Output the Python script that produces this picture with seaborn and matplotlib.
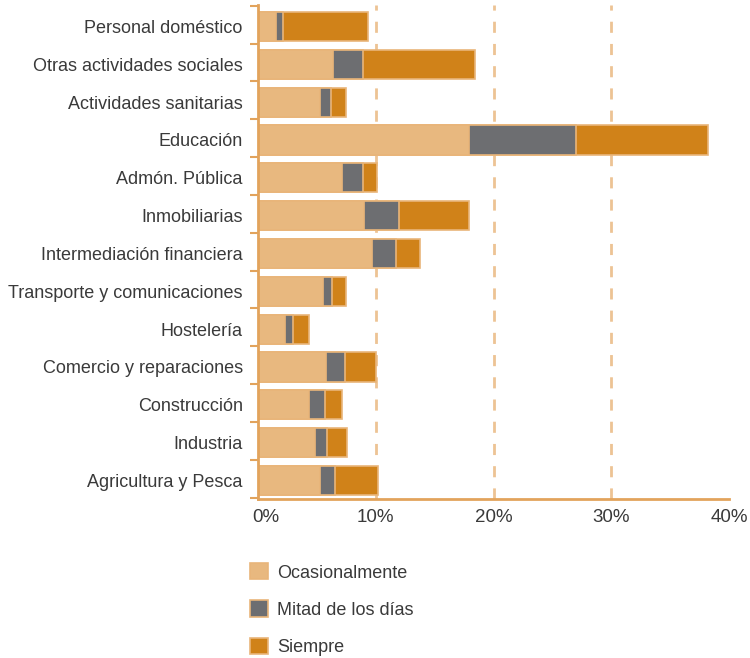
import matplotlib
matplotlib.use("Agg")
import matplotlib.pyplot as plt
from matplotlib.patches import Patch
from matplotlib.transforms import ScaledTranslation
import seaborn as sns
import pandas as pd
import numpy as np

categories = ["Personal doméstico", "Otras actividades sociales", "Actividades sanitarias",
              "Educación", "Admón. Pública", "Inmobiliarias", "Intermediación financiera",
              "Transporte y comunicaciones", "Hostelería", "Comercio y reparaciones",
              "Construcción", "Industria", "Agricultura y Pesca"]
ocasionalmente = [1.5, 6.4, 5.3, 17.9, 7.1, 9.0, 9.7, 5.5, 2.3, 5.8, 4.3, 4.8, 5.3]
mitad = [0.6, 2.5, 0.9, 9.1, 1.8, 3.0, 2.0, 0.8, 0.7, 1.6, 1.4, 1.1, 1.2]
siempre = [7.2, 9.5, 1.3, 11.2, 1.2, 5.9, 2.1, 1.2, 1.3, 2.6, 1.4, 1.7, 3.7]
series_names = ["Ocasionalmente", "Mitad de los días", "Siempre"]
xticks = [0, 10, 20, 30, 40]
xticklabels = ["0%", "10%", "20%", "30%", "40%"]

c_light = "#E8B87F"
c_gray = "#6D6E71"
c_orange = "#D08219"
c_edge = "#E9B57A"
c_axis = "#E2A35C"
c_text = "#3a3a3a"

sns.set_theme(style="white")
plt.rcParams["font.family"] = ["Liberation Sans", "DejaVu Sans"]

df = pd.DataFrame({"cat": categories,
                   "occ": ocasionalmente,
                   "mid": np.array(ocasionalmente) + np.array(mitad),
                   "tot": np.array(ocasionalmente) + np.array(mitad) + np.array(siempre)})

fig = plt.figure(figsize=(7.5, 6.58), dpi=100)
ax = fig.add_axes([258/750, 1-499/658, 471/750, 494/658])

for x in [10, 20, 30]:
    ax.axvline(x, color="#EDC394", lw=2, ls=(0, (4, 4)), zorder=0)

for col, color in [("tot", c_orange), ("mid", c_gray), ("occ", c_light)]:
    sns.barplot(data=df, y="cat", x=col, orient="h", color=color, width=0.77,
                edgecolor=c_edge, linewidth=1.2, saturation=1, ax=ax, zorder=2)

ax.set_xlim(0, 40)
ax.set_ylim(12.489, -0.568)
ax.set_xticks(xticks)
ax.set_xticklabels(xticklabels, fontsize=13.5, color=c_text)
ax.set_yticks(range(len(categories)))
ax.set_yticklabels(categories, fontsize=13, color=c_text)
ax.set_xlabel("")
ax.set_ylabel("")
ax.tick_params(axis="y", length=0, pad=11)
ax.tick_params(axis="x", direction="in", length=4, color=c_axis, width=1.5, pad=7)
ax.set_yticks(np.arange(-0.55, 12.5, 1), minor=True)
ax.tick_params(axis="y", which="minor", length=6, color=c_axis, width=1.5, left=True)
for s in ["top", "right"]:
    ax.spines[s].set_visible(False)
for s in ["left", "bottom"]:
    ax.spines[s].set_color(c_axis)
    ax.spines[s].set_linewidth(2)

lbl0 = ax.get_xticklabels()[0]
lbl0.set_transform(lbl0.get_transform() + ScaledTranslation(8/100, 0, fig.dpi_scale_trans))

handles = [Patch(facecolor=c, edgecolor=c_edge, linewidth=1.2) for c in [c_light, c_gray, c_orange]]
leg = fig.legend(handles, series_names, loc="upper left", bbox_to_anchor=(234/750, 1-547/658),
                 frameon=False, fontsize=13, handlelength=1.0, handleheight=1.0,
                 handletextpad=0.5, labelspacing=1.05)
for t in leg.get_texts():
    t.set_color(c_text)

fig.savefig("out.png", dpi=100)
